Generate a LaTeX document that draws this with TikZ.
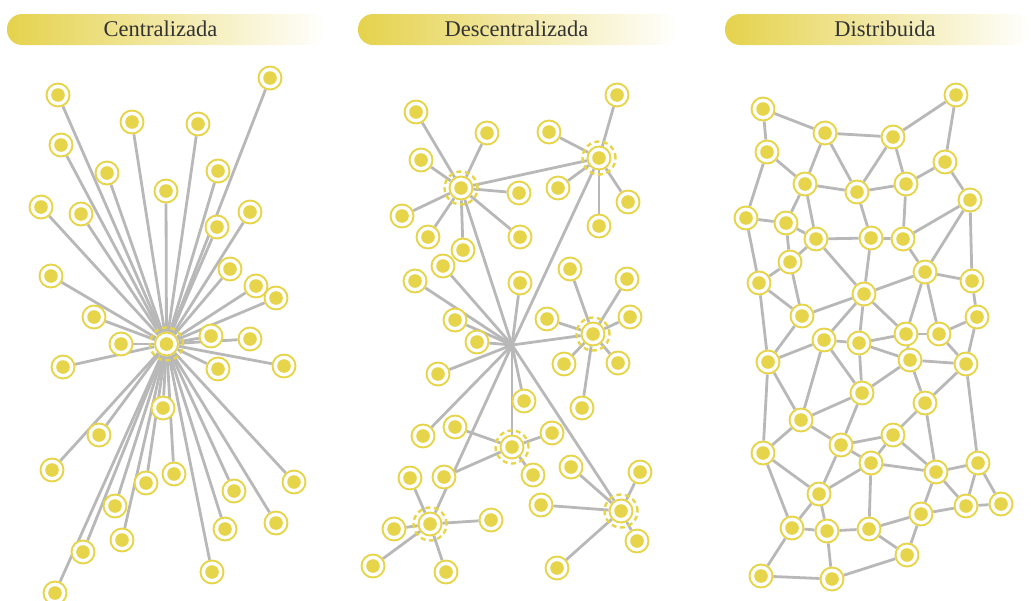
\documentclass[tikz,border=0pt]{standalone}
\usepackage{fontspec}
\setmainfont{Liberation Serif}
\usetikzlibrary{backgrounds}
\definecolor{ylw}{HTML}{E6D44A}
\definecolor{hdrY}{HTML}{E5D24C}
\definecolor{lgray}{HTML}{B8B8B8}
\definecolor{txt}{HTML}{333333}
\begin{document}
\begin{tikzpicture}[x=1pt,y=-1pt,
  nd/.style={circle, draw=ylw, line width=1.9pt, fill=white, minimum size=23pt, inner sep=0pt,
    path picture={\fill[ylw] (path picture bounding box.center) circle (6.8pt);}},
  ln/.style={draw=lgray, line width=2.8pt},
  dring/.style={draw=ylw, line width=2.4pt, dash pattern=on 5pt off 3.5pt},
  hdr/.style={rounded corners=15pt, left color=hdrY, middle color=hdrY!68!white, right color=white},
  title/.style={font=\fontsize{22.5}{26}\selectfont, text=txt, anchor=base, inner sep=0pt}]
\useasboundingbox (0,0) rectangle (1031,600);

% headers
\shade[hdr] (7,14) rectangle (326,45);
\shade[hdr] (358,14) rectangle (678,45);
\shade[hdr] (725,14) rectangle (1031,45);
\node[title] (t1) at (160.5,36.5) {Centralizada};
\node[title] (t2) at (516.5,36.5) {Descentralizada};
\node[title] (t3) at (885,36.5) {Distribuida};

% ---------- Panel 1: centralized ----------
\node[nd] (h0) at (166.5,344) {};
\foreach \n/\x/\y in {a1/58/95, a2/270/78, a3/132/122, a4/198/124, a5/61/145, a6/107/173,
  a7/218/171, a8/166/191, a9/41/207, a10/81/214, a11/250/212, a12/217/227, a13/230/269,
  a14/51/276, a15/256/286, a16/276/298, a17/94/317, a18/121/344, a19/211/336, a20/250/339,
  a21/63/367, a22/218/369, a23/284/366, a24/163/408, a25/99/435, a26/52/470, a27/146/483,
  a28/174/474, a29/234/491, a30/294/482, a31/115/506, a32/225/529, a33/276/523, a34/122/540,
  a35/83/552, a36/212/572, a37/55/593}
  \node[nd] (\n) at (\x,\y) {};

% ---------- Panel 2: decentralized ----------
\coordinate (S) at (512,345);
\foreach \n/\x/\y in {hA/461/188, hB/599/158, hC/593/334, hD/512/447, hE/621/511, hF/430/524}
  \node[nd] (\n) at (\x,\y) {};
\foreach \n/\x/\y in {b1/416/112, b2/487/133, b3/421/160, b4/549/132, b5/617/95, b6/519/193,
  b7/402/216, b8/428/237, b9/520/237, b10/463/250, b11/558/188, b12/628/202, b13/599/226,
  b14/443/266, b15/415/281, b16/520/283, b17/570/269, b18/627/279, b19/455/320, b20/547/319,
  b21/630/317, b22/477/342, b23/438/374, b24/564/364, b25/618/363, b26/524/401, b27/582/408,
  b28/423/436, b29/455/427, b30/552/433, b31/533/475, b32/444/477, b33/410/478, b34/571/467,
  b35/640/472, b36/541/505, b37/637/541, b38/557/568, b39/491/520, b40/394/529, b41/373/566,
  b42/446/572}
  \node[nd] (\n) at (\x,\y) {};

% ---------- Panel 3: distributed ----------
\foreach \n/\x/\y in {n1/763/109, n2/825/133, n3/893/137, n4/956/95, n5/767/152, n6/945/162,
  n7/805/184, n8/857/192, n9/906/184, n10/970/200, n11/746/218, n12/786/223, n13/816/239,
  n14/871/238, n15/903/239, n16/790/262, n17/925/272, n18/759/283, n19/972/281, n20/864/294,
  n21/802/316, n22/977/317,
  m1/824/340, m2/859/343, m3/906/334, m4/939/334, m5/768/362, m6/910/360, m7/966/364,
  m8/862/393, m9/925/403, m10/801/420, m11/841/445, m12/893/435, m13/763/453, m14/871/463,
  m15/936/472, m16/978/463, m17/819/494, m18/921/514, m19/966/506, m20/1001/504, m21/792/528,
  m22/827/531, m23/869/529, m24/907/555, m25/761/576, m26/832/579}
  \node[nd] (\n) at (\x,\y) {};

% dashed rings of the hubs
\foreach \h in {h0,hA,hB,hC,hD,hE,hF}
  \draw[dring] (\h.center) circle (16.5pt);

% connectors
\begin{scope}[on background layer]
  \foreach \i in {1,...,37} \draw[ln] (h0) -- (a\i);
  \foreach \u/\v in {hA/b1, hA/b2, hA/b3, hA/b6, hA/b7, hA/b8, hA/b9, hA/b10, hA/hB,
    hB/b4, hB/b5, hB/b11, hB/b12, hB/b13,
    hC/b17, hC/b18, hC/b20, hC/b21, hC/b24, hC/b25, hC/b27,
    hD/b29, hD/b30, hD/b31, hD/b32,
    hE/b34, hE/b35, hE/b36, hE/b37, hE/b38,
    hF/b33, hF/b39, hF/b40, hF/b41, hF/b42}
    \draw[ln] (\u) -- (\v);
  \foreach \v in {hA, hB, hC, hD, hE, hF, b14, b15, b16, b19, b22, b23, b26, b28}
    \draw[ln] (S) -- (\v);
  \foreach \u/\v in {n1/n2, n1/n5, n2/n3, n3/n4, n4/n6, n2/n7, n2/n8, n3/n8, n3/n9, n5/n7,
    n5/n11, n6/n9, n6/n10, n7/n8, n8/n9, n7/n12, n7/n13, n8/n14, n9/n15, n10/n15, n10/n17,
    n10/n19, n11/n12, n11/n18, n12/n13, n12/n16, n13/n14, n14/n15, n13/n16, n13/n20, n15/n17,
    n14/n20, n16/n18, n16/n21, n17/n20, n17/n19, n19/n22, n18/n21, n18/m5, n20/n21, n20/m1,
    n20/m2, n20/m3, n17/m3, n17/m4, n22/m4, n22/m7, n21/m5, m5/m1, m1/m2, m2/m3, m3/m4,
    m2/m8, m1/m8, m1/m10, m2/m6, m4/m7, m6/m7, m3/m6, m6/m8, m6/m9, m7/m9, m7/m16, m5/m10,
    m5/m13, m8/m10, m8/m11, m10/m11, m10/m13, m11/m12, m9/m12, m9/m15, m11/m14, m12/m14,
    m12/m15, m14/m15, m15/m16, m11/m17, m14/m17, m13/m17, m13/m21, m14/m23, m15/m18, m15/m19,
    m16/m19, m16/m20, m19/m20, m17/m21, m17/m22, m18/m19, m18/m23, m18/m24, m21/m22, m22/m23,
    m23/m24, m21/m25, m22/m26, m25/m26, m26/m24}
    \draw[ln] (\u) -- (\v);
\end{scope}
\end{tikzpicture}
\end{document}
